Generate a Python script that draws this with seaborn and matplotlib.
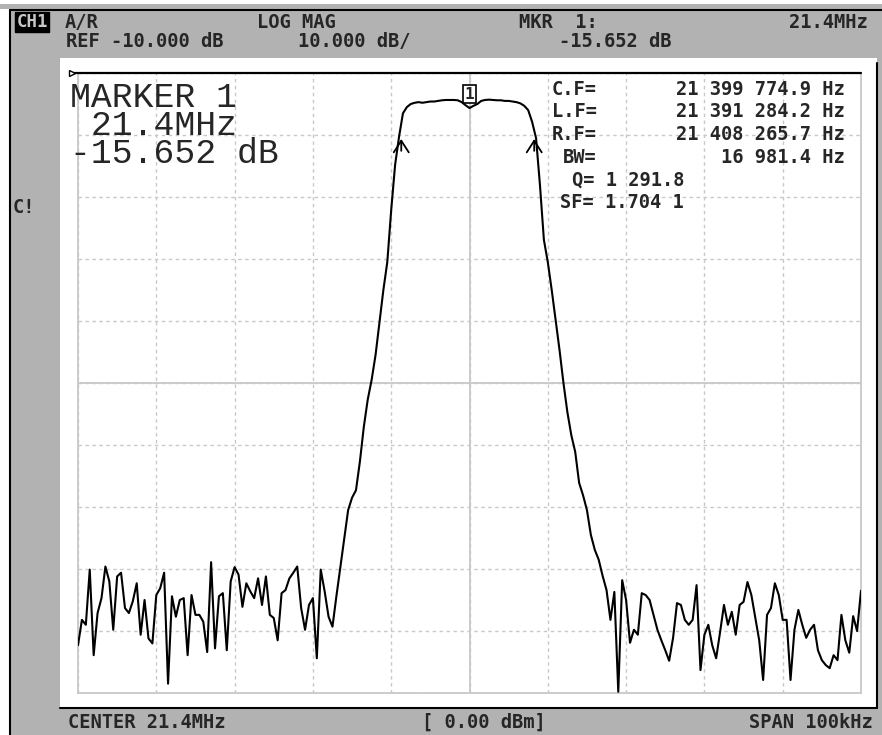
import numpy as np
import pandas as pd
import seaborn as sns
import matplotlib.pyplot as plt
from matplotlib.patches import Rectangle
from matplotlib.lines import Line2D

# sweep settings (from the screen)
center_mhz = 21.4
span_mhz = 0.1
ref_db = -10.0
scale_db = 10.0
marker_db = -15.652

# bandwidth search results
cf_hz = 21399774.9
lf_hz = 21391284.2
rf_hz = 21408265.7
bw_hz = 16981.4

# 201 point trace (dB)
trace_db = [
    -102.3, -98.2, -99.0, -90.1, -103.9, -97.1, -94.7, -89.6, -92.0, -99.8,
    -91.2, -90.6, -96.3, -97.1, -95.2, -92.3, -100.6, -95.0, -101.2, -102.0,
    -94.2, -93.1, -90.6, -108.5, -94.4, -97.7, -95.0, -94.7, -103.9, -94.2,
    -97.4, -97.4, -98.5, -103.4,
    -88.9, -102.8, -94.4, -93.9, -103.1, -92.0, -89.7, -90.9, -96.1, -92.3,
    -93.6, -94.7, -91.5, -95.8, -91.2, -97.4, -97.9, -101.5, -93.9, -93.4,
    -91.5, -90.6, -89.6, -96.3, -99.8, -95.8, -94.7, -104.4, -90.1, -93.6,
    -97.7, -99.3, -94.4,
    -89.8, -85.3, -80.5, -78.5, -77.3, -72.7, -67.1, -62.7, -59.5, -55.5,
    -50.2, -45.0, -40.5, -32.1, -24.8, -20.3, -16.5, -15.5, -15.0, -14.8,
    -14.7, -14.8, -14.7, -14.6, -14.6, -14.5, -14.4, -14.35, -14.35, -14.35,
    -14.4, -14.7, -15.2,
    -15.65, -15.3, -15.0, -14.5, -14.35, -14.3, -14.35, -14.4, -14.4, -14.5,
    -14.5, -14.6, -14.7, -14.9, -15.3, -16.0, -17.9, -20.5, -28.1, -36.9,
    -40.5, -45.0, -49.8, -54.7, -60.0, -64.7, -68.4, -71.1, -76.1, -78.1,
    -80.5, -84.5, -86.9,
    -88.5, -91.1, -93.4, -98.2, -93.7, -109.8, -91.8, -95.0, -101.9, -99.8,
    -100.6, -93.9, -94.2, -95.0, -97.4, -99.8, -101.5, -103.1, -104.8, -101.1,
    -95.5, -95.8, -98.2, -99.0, -98.2, -92.6, -106.3, -100.6, -99.0, -102.3,
    -104.4, -100.2, -95.8,
    -99.0, -96.9, -100.6, -95.8, -95.3, -92.1, -94.2, -97.9, -101.5, -107.9,
    -97.4, -96.3, -92.3, -94.2, -98.2, -98.2, -107.9, -99.8, -96.6, -99.0,
    -101.1, -99.8, -99.0, -103.1, -104.7, -105.5, -106.0, -103.9, -104.7, -97.4,
    -101.5, -103.5, -97.6, -100.0, -93.5,
]
bw_arrow_db = -20.2

W, H = 882, 735
GRAY = '#b2b2b2'
GRID = '#c8c8c8'


def fx(x):
    return x / W


def fy(y):
    return 1 - y / H


def px_rect(x0, y0, x1, y1, color, z=-2):
    fig.add_artist(Rectangle((fx(x0), fy(y1)), (x1 - x0) / W, (y1 - y0) / H,
                             transform=fig.transFigure, color=color, zorder=z, lw=0))


def px_line(x0, y0, x1, y1, lw=1.5, color='black'):
    fig.add_artist(Line2D([fx(x0), fx(x1)], [fy(y0), fy(y1)], transform=fig.transFigure,
                          color=color, lw=lw, zorder=-1))


def label(x, y, s, ha='left', size=13.5, **kw):
    fig.text(fx(x), fy(y), s, ha=ha, va='baseline', fontsize=size,
             fontweight='bold', family='DejaVu Sans Mono', **kw)


sns.set_theme(style='white')
plt.rcParams['font.family'] = ['DejaVu Sans Mono', 'DejaVu Sans']

fig = plt.figure(figsize=(8.82, 7.35), dpi=100, facecolor='white')

# instrument frame
px_rect(0, 4, W, 9, GRAY)
px_rect(10, 10, W, H, GRAY)
px_rect(60, 58, 877, 708, 'white', z=-1.5)
px_line(10, 10, W, 10)
px_line(10, 10, 10, H)
px_line(60, 708, 877, 708)
px_line(877, 63, 877, 708)

ax = fig.add_axes([fx(78), fy(693), (861 - 78) / W, (693 - 73) / H])
ax.set_facecolor('white')

freq_mhz = center_mhz + np.linspace(-span_mhz / 2, span_mhz / 2, len(trace_db))
df = pd.DataFrame({'freq': freq_mhz, 'db': trace_db})
sns.lineplot(data=df, x='freq', y='db', ax=ax, color='black', linewidth=1.5,
             sort=False, zorder=5)

x0, x1 = center_mhz - span_mhz / 2, center_mhz + span_mhz / 2
y1 = ref_db
y0 = ref_db - 10 * scale_db
ax.set_xlim(x0, x1)
ax.set_ylim(y0, y1)
ax.set_xticks(np.linspace(x0, x1, 11))
ax.set_yticks(np.linspace(y0, y1, 11))
ax.tick_params(length=0, labelbottom=False, labelleft=False)
ax.set_xlabel('')
ax.set_ylabel('')
ax.grid(True, color=GRID, linestyle=(0, (2.5, 2.5)), lw=1, zorder=1)
ax.axvline(center_mhz, color=GRID, lw=1.3, zorder=1)
ax.axhline((y0 + y1) / 2, color=GRID, lw=1.3, zorder=1)
for side in ['left', 'right', 'bottom']:
    ax.spines[side].set_color(GRID)
    ax.spines[side].set_linewidth(1.3)
ax.spines['top'].set_visible(False)

# reference line with its little triangle
ref_left = x0 - span_mhz * 0.0077
ax.plot([ref_left, x1], [ref_db, ref_db], color='black', lw=1.6, clip_on=False, zorder=6)
ax.plot([ref_left], [ref_db], marker='>', ms=5, mfc='white', mec='black', mew=1,
        clip_on=False, zorder=7)

# marker 1 box
ax.text(center_mhz, -13.4, '1', ha='center', va='center', fontsize=11.5, fontweight='bold',
        family='DejaVu Sans Mono', zorder=8,
        bbox=dict(boxstyle='square,pad=0.12', fc='white', ec='black', lw=1.2))

# bandwidth arrows
for f_hz in [lf_hz, rf_hz]:
    ax.annotate('', xy=(f_hz / 1e6, bw_arrow_db), xytext=(f_hz / 1e6, bw_arrow_db - 2.8),
                arrowprops=dict(arrowstyle='->,head_length=0.7,head_width=0.45',
                                color='black', lw=1.3), zorder=8)

# big marker readout (one text block)
readout = '\n'.join(['MARKER 1', ' 21.4MHz', f'{marker_db:.3f} dB'])
fig.text(fx(70), fy(163), readout, ha='left', va='baseline', fontsize=25,
         family='Liberation Mono', linespacing=0.8)


def spaced(v, dec):
    s = f'{v:,.{dec}f}'.replace(',', ' ')
    return s


# bandwidth readout block
label(597, 95, 'C.F=', ha='right')
label(597, 117, 'L.F=', ha='right')
label(597, 140, 'R.F=', ha='right')
label(597, 163, 'BW=', ha='right')
label(845, 95, spaced(cf_hz, 1) + ' Hz', ha='right')
label(845, 117, spaced(lf_hz, 1) + ' Hz', ha='right')
label(845, 140, spaced(rf_hz, 1) + ' Hz', ha='right')
label(845, 163, spaced(bw_hz, 1) + ' Hz', ha='right')
label(572, 186, 'Q= 1 291.8')
label(560, 208, 'SF= 1.704 1')

# header
fig.text(fx(32), fy(27), 'CH1', ha='center', va='baseline', fontsize=12.5, fontweight='bold',
         family='DejaVu Sans Mono', color='#c8c8c8',
         bbox=dict(boxstyle='square,pad=0.08', fc='black', ec='black'))
label(65, 28, 'A/R')
label(257, 28, 'LOG MAG')
label(519, 28, 'MKR  1:')
label(868, 28, f'{center_mhz}MHz', ha='right')
label(66, 47, f'REF {ref_db:.3f} dB')
label(298, 47, f'{scale_db:.3f} dB/')
label(559, 47, f'{marker_db:.3f} dB')
label(13, 213, 'C!')

# footer
label(68, 728, f'CENTER {center_mhz}MHz')
label(422, 728, '[ 0.00 dBm]')
label(873, 728, f'SPAN {span_mhz * 1000:.0f}kHz', ha='right')

fig.savefig('out.png', dpi=100, facecolor='white')
